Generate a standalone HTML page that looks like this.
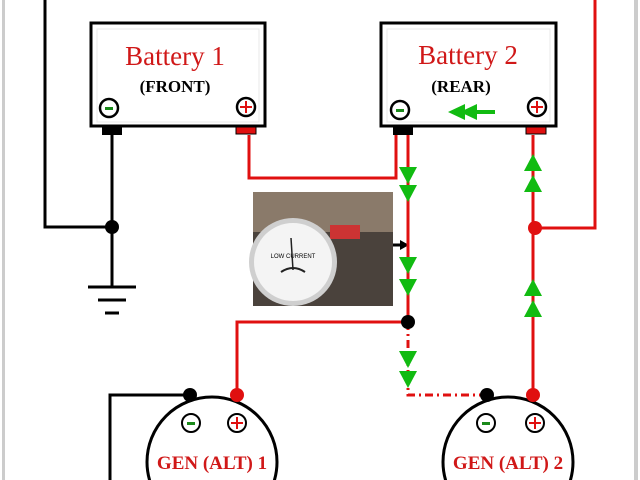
<!DOCTYPE html>
<html><head><style>html,body{margin:0;padding:0;background:#fff;overflow:hidden;width:640px;height:480px}svg{display:block}</style></head><body>
<svg width="640" height="480" viewBox="0 0 640 480" xmlns="http://www.w3.org/2000/svg" font-family="Liberation Serif, serif">
<defs>
<g id="ad"><polygon points="-9,-11 9,-11 0,6" fill="#1b1"/></g>
<g id="au"><polygon points="-9,11 9,11 0,-6" fill="#1b1"/></g>
</defs>
<rect x="2" y="0" width="3" height="480" fill="#ccc"/>
<rect x="634" y="0" width="4" height="480" fill="#ccc"/>
<g stroke="#000" stroke-width="3" fill="none">
<polyline points="45,0 45,227 112,227"/>
<line x1="112" y1="135" x2="112" y2="287"/>
<line x1="88" y1="287" x2="136" y2="287"/>
<line x1="98" y1="300" x2="126" y2="300"/>
<line x1="105" y1="313" x2="119" y2="313"/>
<polyline points="190,395 110,395 110,480"/>
<line x1="393" y1="245" x2="402" y2="245"/>
</g>
<polygon points="400,240 409,245 400,250" fill="#000"/>
<g stroke="#e01010" stroke-width="3" fill="none">
<polyline points="249,135 249,178 396,178 396,135"/>
<line x1="408" y1="135" x2="408" y2="322"/>
<line x1="533" y1="135" x2="533" y2="395"/>
<polyline points="535,228 595,228 595,0"/>
<polyline points="408,322 237,322 237,395"/>
<polyline points="408,322 408,395 487,395" stroke-dasharray="8,4,2,4"/>
</g>
<circle cx="112" cy="227" r="7" fill="#000"/>
<circle cx="535" cy="228" r="7" fill="#e01010"/>
<circle cx="408" cy="322" r="7" fill="#000"/>
<use href="#ad" x="408" y="178"/><use href="#ad" x="408" y="196"/>
<use href="#ad" x="408" y="268"/><use href="#ad" x="408" y="290"/>
<use href="#ad" x="408" y="362"/><use href="#ad" x="408" y="382"/>
<use href="#au" x="533" y="160"/><use href="#au" x="533" y="181"/>
<use href="#au" x="533" y="285"/><use href="#au" x="533" y="306"/>
<g>
<rect x="91" y="23" width="174" height="103" fill="#fff" stroke="#000" stroke-width="3"/>
<rect x="97" y="29" width="162" height="93" fill="none" stroke="#e8e8e8"/>
<text x="175" y="65" font-size="27" fill="#d01818" text-anchor="middle">Battery 1</text>
<text x="175" y="92" font-size="17" font-weight="bold" text-anchor="middle">(FRONT)</text>
<circle cx="109" cy="108" r="9" fill="#fff" stroke="#000" stroke-width="2.5"/>
<rect x="105" y="107" width="8" height="3" fill="#1a8a1a"/>
<circle cx="246" cy="107" r="9" fill="#fff" stroke="#000" stroke-width="2.5"/>
<path d="M240 107h12M246 101v12" stroke="#e01010" stroke-width="2"/>
<rect x="102" y="126" width="20" height="9" fill="#000"/>
<rect x="236" y="127" width="20" height="7" fill="#e01010" stroke="#000" stroke-width="1"/>
</g>
<g>
<rect x="381" y="23" width="175" height="103" fill="#fff" stroke="#000" stroke-width="3"/>
<rect x="387" y="29" width="163" height="93" fill="none" stroke="#e8e8e8"/>
<text x="468" y="64" font-size="27" fill="#d01818" text-anchor="middle">Battery 2</text>
<text x="461" y="92" font-size="17" font-weight="bold" text-anchor="middle">(REAR)</text>
<circle cx="400" cy="110" r="9" fill="#fff" stroke="#000" stroke-width="2.5"/>
<rect x="396" y="109" width="8" height="3" fill="#1a8a1a"/>
<circle cx="537" cy="107" r="9" fill="#fff" stroke="#000" stroke-width="2.5"/>
<path d="M531 107h12M537 101v12" stroke="#e01010" stroke-width="2"/>
<polygon points="448,112 465,104 465,120" fill="#1b1"/>
<polygon points="460,112 477,104 477,120" fill="#1b1"/>
<rect x="470" y="110" width="25" height="4" fill="#1b1"/>
<rect x="393" y="126" width="20" height="9" fill="#000"/>
<rect x="526" y="127" width="20" height="7" fill="#e01010" stroke="#000" stroke-width="1"/>
</g>
<rect x="253" y="192" width="140" height="114" fill="#4a423c"/>
<rect x="253" y="192" width="140" height="40" fill="#8a7a6a"/>
<rect x="330" y="225" width="30" height="14" fill="#c33"/>
<circle cx="293" cy="262" r="44" fill="#cfcfcf"/>
<circle cx="293" cy="262" r="39" fill="#f4f4f4"/>
<text x="293" y="258" font-size="6" text-anchor="middle" font-family="Liberation Sans,sans-serif">LOW CURRENT</text>
<path d="M281 272q12-8 24 0" stroke="#222" stroke-width="2" fill="none"/>
<line x1="293" y1="270" x2="291" y2="238" stroke="#222" stroke-width="1.5"/>
<circle cx="212" cy="462" r="65" fill="#fff" stroke="#000" stroke-width="3"/>
<circle cx="508" cy="462" r="65" fill="#fff" stroke="#000" stroke-width="3"/>
<circle cx="190" cy="395" r="7" fill="#000"/>
<circle cx="237" cy="395" r="7" fill="#e01010"/>
<circle cx="487" cy="395" r="7" fill="#000"/>
<circle cx="533" cy="395" r="7" fill="#e01010"/>
<g stroke="#000" stroke-width="2" fill="#fff">
<circle cx="191" cy="423" r="9"/><circle cx="237" cy="423" r="9"/>
<circle cx="486" cy="423" r="9"/><circle cx="535" cy="423" r="9"/>
</g>
<rect x="187" y="422" width="8" height="3" fill="#1a8a1a"/>
<rect x="482" y="422" width="8" height="3" fill="#1a8a1a"/>
<path d="M231 423h12M237 417v12M529 423h12M535 417v12" stroke="#e01010" stroke-width="2"/>
<text x="212" y="469" font-size="19" font-weight="bold" fill="#d01818" text-anchor="middle">GEN (ALT) 1</text>
<text x="508" y="469" font-size="19" font-weight="bold" fill="#d01818" text-anchor="middle">GEN (ALT) 2</text>
</svg>
</body></html>
